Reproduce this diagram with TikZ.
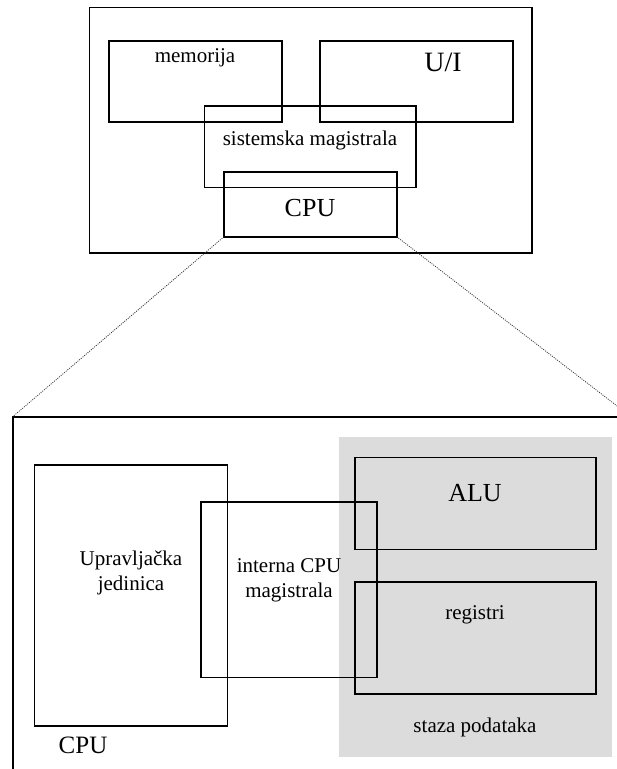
\documentclass[tikz,border=0pt]{standalone}
\usepackage{fontspec}
\setmainfont{Liberation Serif}
\definecolor{pathgrey}{RGB}{220,220,220}
\tikzset{
  box/.style={draw=black, line width=1.6pt, inner sep=0pt, outer sep=0pt},
  zoomline/.style={draw=black!80, line width=0.8pt, dash pattern=on 1pt off 1.2pt},
  smalltext/.style={font=\fontsize{21}{25}\selectfont, inner sep=0pt, align=center},
  bigtext/.style={font=\fontsize{26}{30}\selectfont, inner sep=0pt},
}
% box given by its corners: \pbox{name}{x1}{y1}{x2}{y2}
\newcommand{\pbox}[5]{%
  \node[box, minimum width={(#4-#2)*1pt}, minimum height={(#5-#3)*1pt}]
    (#1) at ({(#2+#4)/2},{(#3+#5)/2}) {};}
\begin{document}
\begin{tikzpicture}[x=1pt, y=-1pt]
  \useasboundingbox (0,0) rectangle (617,769);
  \clip (0,0) rectangle (617,769);

  % --- computer system ---
  \pbox{sys}{89.3}{7.3}{531.7}{252.7}
  \pbox{mem}{109}{40.7}{281.7}{121.7}
  \pbox{io}{320}{40.7}{512.7}{121.7}
  \pbox{bus}{204.3}{106}{416}{187.3}
  \pbox{cpu}{224}{171.7}{396.7}{236.7}
  \node[smalltext] (memtxt) at (195,58) {memorija};
  \node[font=\fontsize{28}{32}\selectfont, inner sep=0pt] (iotxt) at (443,62) {U/I};
  \node[smalltext] (bustxt) at (310,140) {sistemska magistrala};
  \node[bigtext] (cputxt) at (310,208) {CPU};

  % --- CPU detail ---
  \fill[pathgrey] (338.5,437.3) rectangle (611.7,757);
  \coordinate (fTL) at (12.7,416.7);
  \coordinate (fTR) at (631,416.7);
  \coordinate (fBL) at (12.7,780);
  \draw[line width=1.6pt] (fTR) -- (fTL) -- (fBL);

  \pbox{cu}{34.3}{465}{227.3}{726}
  \pbox{ibus}{201}{501.7}{376.7}{677.5}
  \pbox{alu}{355}{457.3}{595.7}{549.3}
  \pbox{reg}{355}{581.7}{595.7}{694}

  \node[smalltext] (cutxt) at (131,572.5) {Upravljačka\\jedinica};
  \node[smalltext] (ibustxt) at (289,580.5) {interna CPU\\magistrala};
  \node[bigtext] (alutxt) at (475,493) {ALU};
  \node[smalltext] (regtxt) at (475,615) {registri};
  \node[smalltext] (dptxt) at (475,727) {staza podataka};
  \node[font=\fontsize{25}{29}\selectfont, inner sep=0pt] (cpulbl) at (83,745) {CPU};

  % --- zoom lines ---
  \draw[zoomline] (cpu.south west) -- (fTL);
  \draw[zoomline] (cpu.south east) -- (fTR);
\end{tikzpicture}
\end{document}
